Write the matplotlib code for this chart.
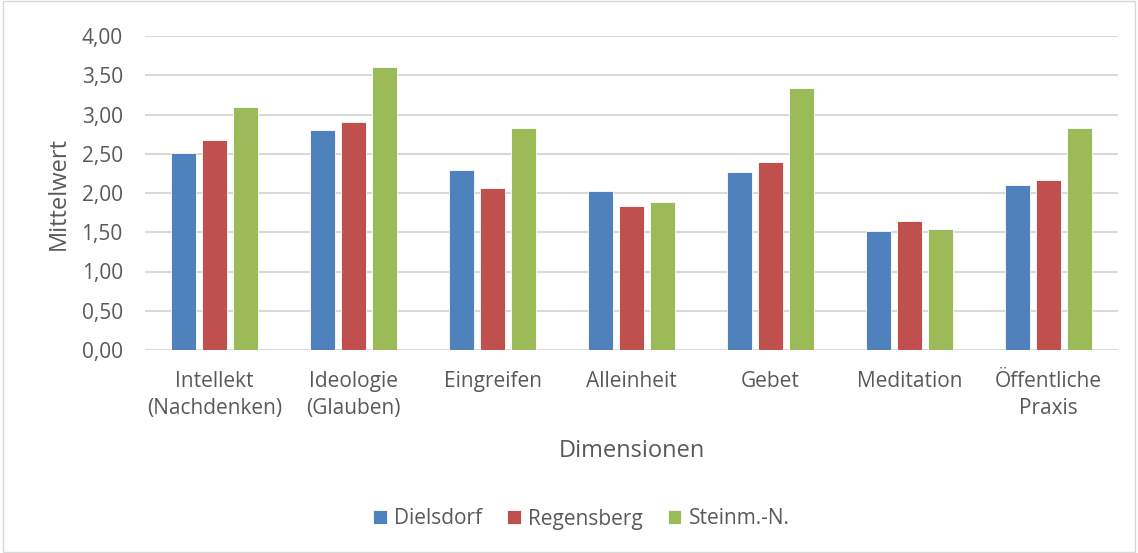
import matplotlib
matplotlib.use("Agg")
import matplotlib.pyplot as plt
import numpy as np
from matplotlib.patches import Rectangle

categories = ["Intellekt\n(Nachdenken)", "Ideologie\n(Glauben)", "Eingreifen", "Alleinheit",
              "Gebet", "Meditation", "Öffentliche\nPraxis"]
series_names = ["Dielsdorf", "Regensberg", "Steinm.-N."]
dielsdorf = [2.51, 2.80, 2.29, 2.02, 2.27, 1.51, 2.10]
regensberg = [2.68, 2.90, 2.06, 1.83, 2.39, 1.64, 2.16]
steinm = [3.09, 3.60, 2.83, 1.88, 3.34, 1.54, 2.83]
yticks = [0, 0.5, 1.0, 1.5, 2.0, 2.5, 3.0, 3.5, 4.0]
ytick_labels = ["0,00", "0,50", "1,00", "1,50", "2,00", "2,50", "3,00", "3,50", "4,00"]

colors = ["#4F81BD", "#C0504D", "#9BBB59"]
txt = "#595959"
plt.rcParams['font.family'] = ['Open Sans', 'DejaVu Sans']

fig = plt.figure(figsize=(11.38, 5.53), dpi=100)
ax = fig.add_axes([145/1138, 1-350/553, (1118-145)/1138, (350-36)/553])

x = np.arange(len(categories))
width = 0.175
step = 0.222
for i, (vals, name) in enumerate(zip([dielsdorf, regensberg, steinm], series_names)):
    ax.bar(x + (i-1)*step, vals, width, color=colors[i], label=name,
           edgecolor="white", linewidth=0.6, zorder=3)

ax.set_xlim(-0.5, len(categories)-0.5)
ax.set_ylim(0, 4)
ax.set_yticks(yticks)
ax.set_yticklabels(ytick_labels, color=txt, fontsize=15)
ax.set_xticks(x)
ax.set_xticklabels(categories, color=txt, fontsize=15, linespacing=1.4)
ax.tick_params(axis='both', length=0)
ax.tick_params(axis='y', pad=16)
ax.tick_params(axis='x', pad=15)
ax.grid(axis='y', color="#D9D9D9", linewidth=1.5, zorder=0)
for s in ax.spines.values():
    s.set_visible(False)
ax.set_ylabel("Mittelwert", color=txt, fontsize=17, labelpad=8)
ax.set_xlabel("Dimensionen", color=txt, fontsize=17, labelpad=14)

leg = fig.legend(loc="center", bbox_to_anchor=(0.511, 1-519/553), ncol=3, frameon=False,
                 fontsize=15, handlelength=0.65, handleheight=0.65, handletextpad=0.35,
                 columnspacing=1.2, labelcolor=txt)

fig.patches.append(Rectangle((3/1138, 0.002), 1-6/1138, 0.996, transform=fig.transFigure,
                             fill=False, edgecolor="#D9D9D9", linewidth=1.0))

fig.savefig("out.png", dpi=100, facecolor="white")
